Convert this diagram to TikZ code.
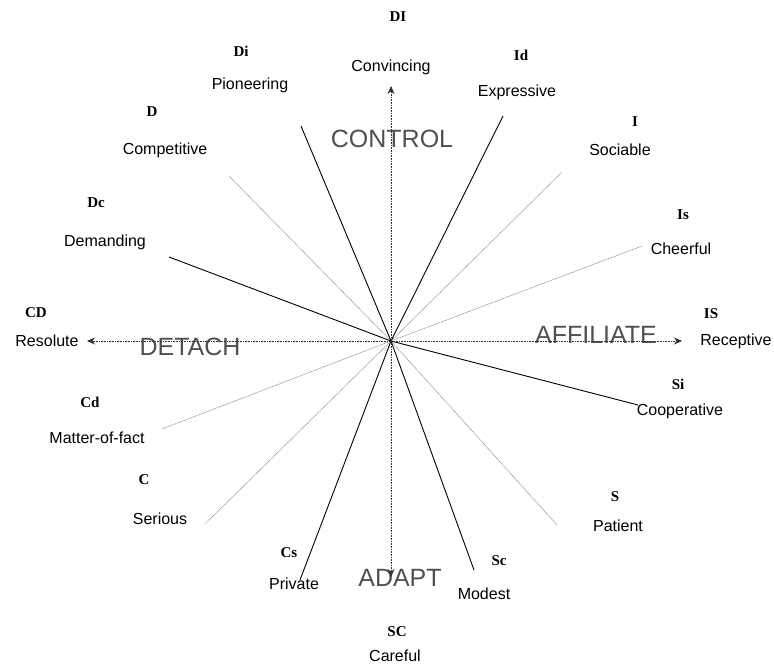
\documentclass[tikz,border=0pt]{standalone}
\usepackage{fontspec}
\setmainfont{Liberation Sans}
\newfontfamily\codefont{Liberation Serif}
\usetikzlibrary{arrows.meta}
\definecolor{bigtxt}{HTML}{505050}
\definecolor{lightln}{HTML}{8C8C8C}
\tikzset{
  lbl/.style={font=\fontsize{16}{18}\selectfont, inner sep=0pt},
  code/.style={font=\codefont\bfseries\fontsize{15}{17}\selectfont, inner sep=0pt},
  big/.style={font=\fontsize{25}{28}\selectfont, text=bigtxt, inner sep=0pt},
  solidln/.style={draw=black, line width=0.9pt},
  greyln/.style={draw=lightln, line width=0.6pt, dash pattern=on 1pt off 0.6pt},
  axis/.style={draw=black!80, line width=0.7pt, dash pattern=on 0.8pt off 0.8pt, -{Stealth[length=8pt,width=7pt]}},
}
\begin{document}
\begin{tikzpicture}[x=1pt,y=-1pt]
\useasboundingbox (0,0) rectangle (774,664);
\coordinate (o) at (391,341);
% endpoints
\coordinate (eUp) at (391,86);
\coordinate (eDown) at (391,577);
\coordinate (eLeft) at (87,341);
\coordinate (eRight) at (682,341);
\coordinate (eDi) at (301,126);
\coordinate (eId) at (503,116);
\coordinate (eD) at (229,176);
\coordinate (eI) at (562,172);
\coordinate (eIs) at (642,246);
\coordinate (eDc) at (169,257);
\coordinate (eCd) at (162,429);
\coordinate (eSi) at (638,405);
\coordinate (eC) at (205,524);
\coordinate (eS) at (557,525);
\coordinate (eCs) at (300,580);
\coordinate (eSc) at (474,570);
% grey lines
\draw[greyln] (o) -- (eD);
\draw[greyln] (o) -- (eI);
\draw[greyln] (o) -- (eIs);
\draw[greyln] (o) -- (eCd);
\draw[greyln] (o) -- (eC);
\draw[greyln] (o) -- (eS);
% solid lines
\draw[solidln] (o) -- (eDi);
\draw[solidln] (o) -- (eId);
\draw[solidln] (o) -- (eDc);
\draw[solidln] (o) -- (eSi);
\draw[solidln] (o) -- (eCs);
\draw[solidln] (o) -- (eSc);
% big words
\node[big] (control) at (392,139) {CONTROL};
\node[big] (detach) at (190,347) {DETACH};
\node[big] (affiliate) at (596,335) {AFFILIATE};
\node[big] (adapt) at (400,578) {ADAPT};
% axes
\draw[axis] (o) -- (eUp);
\draw[axis] (o) -- (eDown);
\draw[axis] (o) -- (eLeft);
\draw[axis] (o) -- (eRight);
% labels
\node[code] (cDI) at (398,17) {DI};
\node[lbl] (lDI) at (391,67) {Convincing};
\node[code] (cDi) at (241,51) {Di};
\node[lbl] (lDi) at (250,85) {Pioneering};
\node[code] (cId) at (521,55) {Id};
\node[lbl] (lId) at (517,92) {Expressive};
\node[code] (cD) at (152,112) {D};
\node[lbl] (lD) at (165,150) {Competitive};
\node[code] (cI) at (635,122) {I};
\node[lbl] (lI) at (620,150) {Sociable};
\node[code] (cDc) at (96,203) {Dc};
\node[lbl] (lDc) at (105,242) {Demanding};
\node[code] (cIs) at (683,215) {Is};
\node[lbl] (lIs) at (681,249) {Cheerful};
\node[code] (cCD) at (36,313) {CD};
\node[lbl] (lCD) at (47,341) {Resolute};
\node[code] (cIS) at (711,314) {IS};
\node[lbl] (lIS) at (736,341) {Receptive};
\node[code] (cCd) at (90,402) {Cd};
\node[lbl] (lCd) at (97,438) {Matter-of-fact};
\node[code] (cSi) at (678,384) {Si};
\node[lbl] (lSi) at (680,411) {Cooperative};
\node[code] (cC) at (144,480) {C};
\node[lbl] (lC) at (160,519) {Serious};
\node[code] (cS) at (615,497) {S};
\node[lbl] (lS) at (618,526) {Patient};
\node[code] (cCs) at (289,553) {Cs};
\node[lbl] (lCs) at (294,584) {Private};
\node[code] (cSc) at (499,561) {Sc};
\node[lbl] (lSc) at (484,594) {Modest};
\node[code] (cSC) at (397,632) {SC};
\node[lbl] (lSC) at (395,656) {Careful};
\end{tikzpicture}
\end{document}
